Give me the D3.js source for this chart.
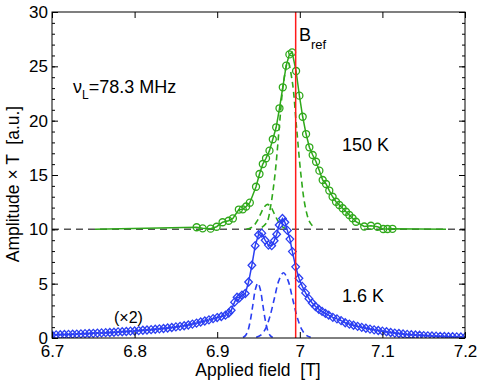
<!DOCTYPE html>
<html>
<head>
<meta charset="utf-8">
<script src="https://cdn.jsdelivr.net/npm/d3@7"></script>
<style>
  html, body { margin: 0; padding: 0; background: #fff; }
  svg { display: block; font-family: "Liberation Sans", Arial, Helvetica, sans-serif; }
</style>
</head>
<body>
<div id="chart"></div>
<script>
// ---- data ----
const xTicks = [6.7, 6.8, 6.9, 7.0, 7.1, 7.2];
const yTicks = [0, 5, 10, 15, 20, 25, 30];
const yMinorTicks = d3.range(0, 31, 1);

// 150 K spectrum (offset by 10)
const greenField = [6.8751, 6.8824, 6.8920, 6.8993, 6.9065, 6.9138, 6.9190, 6.9262, 6.9310, 6.9351,
  6.9395, 6.9470, 6.9512, 6.9552, 6.9591, 6.9633, 6.9673, 6.9714, 6.9754, 6.9794,
  6.9835, 6.9874, 6.9907, 6.9955, 6.9995, 7.0035, 7.0076, 7.0116, 7.0156, 7.0197,
  7.0237, 7.0277, 7.0318, 7.0357, 7.0397, 7.0438, 7.0478, 7.0518, 7.0559, 7.0599,
  7.0639, 7.0680, 7.0780, 7.0861, 7.0941, 7.1010, 7.1062, 7.1122];
const greenAmp = [10.19, 10.09, 10.06, 10.24, 10.65, 10.79, 11.00, 11.82, 11.84, 12.10,
  12.45, 13.92, 15.09, 16.01, 16.54, 17.24, 18.29, 19.39, 21.14, 23.07,
  25.06, 26.10, 26.29, 24.57, 22.30, 20.36, 18.77, 17.55, 16.84, 16.22,
  15.40, 14.54, 14.17, 13.57, 13.00, 12.54, 12.24, 11.94, 11.62, 11.32,
  11.02, 10.70, 10.26, 10.33, 10.24, 10.03, 10.03, 10.05];
const greenLineEnds = [[6.752, 10.0], [7.177, 10.0]];

// 1.6 K spectrum (x2)
const blueField = [6.700, 6.705, 6.710, 6.715, 6.720, 6.725, 6.730, 6.735, 6.740, 6.745,
  6.750, 6.755, 6.760, 6.765, 6.770, 6.775, 6.780, 6.785, 6.790, 6.795,
  6.800, 6.805, 6.810, 6.815, 6.820, 6.825, 6.830, 6.835, 6.840, 6.845,
  6.850, 6.855, 6.860, 6.865, 6.870, 6.875, 6.880, 6.885, 6.890, 6.895,
  6.900, 6.905, 6.910, 6.914, 6.917, 6.921, 6.924, 6.927, 6.930, 6.934,
  6.938, 6.942, 6.946, 6.950, 6.954, 6.958, 6.962, 6.966, 6.969, 6.972,
  6.975, 6.979, 6.982, 6.985, 6.988, 6.991, 6.995, 6.999, 7.003, 7.007,
  7.011, 7.015, 7.019, 7.023, 7.027, 7.031, 7.035, 7.040, 7.045, 7.050,
  7.055, 7.060, 7.065, 7.070, 7.075, 7.080, 7.085, 7.090, 7.095, 7.100,
  7.105, 7.110, 7.115, 7.120, 7.125, 7.130, 7.135, 7.140, 7.145, 7.150,
  7.155, 7.160, 7.165, 7.170, 7.175, 7.180, 7.185, 7.190, 7.195, 7.200];
const blueAmp = [0.28, 0.29, 0.30, 0.32, 0.33, 0.35, 0.36, 0.38, 0.40, 0.41,
  0.43, 0.45, 0.47, 0.49, 0.51, 0.53, 0.56, 0.58, 0.60, 0.63,
  0.65, 0.68, 0.71, 0.74, 0.77, 0.80, 0.84, 0.88, 0.92, 0.97,
  1.02, 1.07, 1.13, 1.20, 1.28, 1.37, 1.47, 1.57, 1.67, 1.78,
  1.88, 1.98, 2.10, 2.30, 2.55, 3.30, 3.75, 3.70, 3.95, 4.10,
  5.15, 6.70, 8.50, 9.50, 9.65, 9.00, 8.55, 8.50, 8.95, 9.55,
  10.40, 11.00, 10.65, 9.90, 9.10, 7.95, 6.55, 5.50, 4.75, 4.15,
  3.62, 3.22, 2.90, 2.65, 2.45, 2.27, 2.10, 1.90, 1.76, 1.60,
  1.40, 1.28, 1.17, 1.07, 0.98, 0.90, 0.82, 0.75, 0.69, 0.63,
  0.57, 0.51, 0.45, 0.41, 0.37, 0.33, 0.30, 0.27, 0.25, 0.22,
  0.20, 0.18, 0.17, 0.15, 0.14, 0.12, 0.11, 0.10, 0.09, 0.08];

// fitted line components (dashed)
const greenComp1Field = [6.9354, 6.9397, 6.9439, 6.9482, 6.9524, 6.9567, 6.9609, 6.9652, 6.9694, 6.9737, 6.9779, 6.9822, 6.9864];
const greenComp1Amp = [10.03, 10.10, 10.31, 10.75, 11.39, 12.03, 12.30, 12.03, 11.39, 10.75, 10.31, 10.10, 10.03];
const greenComp2Field = [6.9541, 6.9604, 6.9646, 6.9699, 6.9751, 6.9804, 6.9856, 6.9909, 6.9961, 7.0014, 7.0066, 7.0119, 7.0171];
const greenComp2Amp = [10.17, 10.68, 12.08, 15.00, 19.34, 23.59, 25.40, 23.59, 19.34, 15.00, 12.08, 10.68, 10.17];
const blueComp1Field = [6.9312, 6.9342, 6.9372, 6.9402, 6.9432, 6.9462, 6.9492, 6.9522, 6.9552, 6.9582, 6.9612, 6.9642, 6.9672];
const blueComp1Amp = [0.06, 0.22, 0.68, 1.64, 3.06, 4.46, 5.05, 4.46, 3.06, 1.64, 0.68, 0.22, 0.06];
const blueComp2Field = [6.9472, 6.9527, 6.9582, 6.9637, 6.9692, 6.9747, 6.9802, 6.9857, 6.9912, 6.9967, 7.0022, 7.0077, 7.0132];
const blueComp2Amp = [0.07, 0.26, 0.81, 1.95, 3.64, 5.30, 6.00, 5.30, 3.64, 1.95, 0.81, 0.26, 0.07];

const baselineLevel = 10;
const bRef = 6.995;

// ---- drawing ----
const W = 480, H = 381;
const GREEN = '#2fa81a', BLUE = '#2a3ef2';

const svg = d3.select('#chart').append('svg').attr('width', W).attr('height', H);

const x = d3.scaleLinear().domain([6.7, 7.2]).range([52, 465]);
const y = d3.scaleLinear().domain([0, 30]).range([338, 12]);

svg.append('defs').append('clipPath').attr('id', 'plotClip')
  .append('rect').attr('x', 52).attr('y', 12).attr('width', 413).attr('height', 326);

const zip = (a, b) => a.map((v, i) => [v, b[i]]);
const line = d3.line().x(d => x(d[0])).y(d => y(d[1]));
const smooth = d3.line().x(d => x(d[0])).y(d => y(d[1])).curve(d3.curveCatmullRom);

const plot = svg.append('g').attr('clip-path', 'url(#plotClip)');

// offset baseline at 10
plot.append('path')
  .attr('d', line([[6.7, baselineLevel], [7.2, baselineLevel]]))
  .attr('stroke', '#555').attr('stroke-width', 1.5)
  .attr('stroke-dasharray', '7,5').attr('fill', 'none');

// dashed components
[[blueComp1Field, blueComp1Amp, BLUE], [blueComp2Field, blueComp2Amp, BLUE],
 [greenComp1Field, greenComp1Amp, GREEN], [greenComp2Field, greenComp2Amp, GREEN]]
  .forEach(([f, a, c]) => {
    plot.append('path')
      .attr('d', smooth(zip(f, a)))
      .attr('stroke', c).attr('stroke-width', 1.6)
      .attr('stroke-dasharray', '6,4').attr('fill', 'none');
  });

// 1.6 K data
const blueData = zip(blueField, blueAmp);
plot.append('path').attr('d', line(blueData))
  .attr('stroke', BLUE).attr('stroke-width', 1.5).attr('fill', 'none');
plot.append('g').selectAll('path')
  .data(blueData).enter().append('path')
  .attr('d', 'M0,-4L3.8,0L0,4L-3.8,0Z')
  .attr('transform', d => `translate(${x(d[0])},${y(d[1])})`)
  .attr('fill', 'none').attr('stroke', BLUE).attr('stroke-width', 1.3);

// 150 K data
const greenData = zip(greenField, greenAmp);
plot.append('path').attr('d', line([greenLineEnds[0], ...greenData, greenLineEnds[1]]))
  .attr('stroke', GREEN).attr('stroke-width', 1.5).attr('fill', 'none');
plot.append('g').selectAll('circle')
  .data(greenData).enter().append('circle')
  .attr('cx', d => x(d[0])).attr('cy', d => y(d[1])).attr('r', 3.5)
  .attr('fill', 'none').attr('stroke', GREEN).attr('stroke-width', 1.3);

// B_ref marker
plot.append('line')
  .attr('x1', x(bRef)).attr('x2', x(bRef)).attr('y1', 12).attr('y2', 338)
  .attr('stroke', '#ff1a1a').attr('stroke-width', 1.5);

// axes (ticks inside, MATLAB style)
const fmt = d => String(+d.toFixed(1));
const styleAxis = g => {
  g.select('.domain').remove();
  g.selectAll('line').attr('stroke', '#000');
  g.selectAll('text').attr('font-size', 17).attr('fill', '#000')
    .attr('font-family', '"Liberation Sans", Arial, sans-serif');
};
svg.append('g').attr('transform', 'translate(0,338)')
  .call(d3.axisBottom(x).tickValues(xTicks).tickFormat(fmt).tickSizeInner(-6).tickSizeOuter(0).tickPadding(7))
  .call(styleAxis);
svg.append('g').attr('transform', 'translate(0,12)')
  .call(d3.axisTop(x).tickValues(xTicks).tickFormat('').tickSizeInner(-6).tickSizeOuter(0))
  .call(styleAxis);
svg.append('g').attr('transform', 'translate(52,0)')
  .call(d3.axisLeft(y).tickValues(yTicks).tickSizeInner(-6).tickSizeOuter(0).tickPadding(4))
  .call(styleAxis);
svg.append('g').attr('transform', 'translate(52,0)')
  .call(d3.axisLeft(y).tickValues(yMinorTicks).tickFormat('').tickSizeInner(-3).tickSizeOuter(0))
  .call(styleAxis);
svg.append('g').attr('transform', 'translate(465,0)')
  .call(d3.axisRight(y).tickValues(yTicks).tickFormat('').tickSizeInner(-6).tickSizeOuter(0))
  .call(styleAxis);
svg.append('g').attr('transform', 'translate(465,0)')
  .call(d3.axisRight(y).tickValues(yMinorTicks).tickFormat('').tickSizeInner(-3).tickSizeOuter(0))
  .call(styleAxis);

svg.append('rect').attr('x', 52).attr('y', 12).attr('width', 413).attr('height', 326)
  .attr('fill', 'none').attr('stroke', '#000').attr('stroke-width', 1);

// axis titles
svg.append('text').attr('x', 258).attr('y', 376).attr('text-anchor', 'middle')
  .attr('font-size', 17.5).style('white-space', 'pre').text('Applied field  [T]');
svg.append('text').attr('transform', 'translate(19,184) rotate(-90)').attr('text-anchor', 'middle')
  .attr('font-size', 17.5).style('white-space', 'pre').text('Amplitude \u00d7 T  [a.u.]');

// annotations
const nu = svg.append('text').attr('x', 73).attr('y', 93).attr('font-size', 18);
nu.append('tspan').text('\u03bd');
nu.append('tspan').attr('font-size', 12).attr('dy', 6).text('L');
nu.append('tspan').attr('dy', -6).text('=78.3 MHz');

const bref = svg.append('text').attr('x', 299).attr('y', 41).attr('font-size', 18);
bref.append('tspan').text('B');
bref.append('tspan').attr('font-size', 13).attr('dy', 8).text('ref');

svg.append('text').attr('x', 342).attr('y', 151).attr('font-size', 18).text('150 K');
svg.append('text').attr('x', 342).attr('y', 302).attr('font-size', 18).text('1.6 K');
svg.append('text').attr('x', 114).attr('y', 323).attr('font-size', 16).text('(\u00d72)');
</script>
</body>
</html>
